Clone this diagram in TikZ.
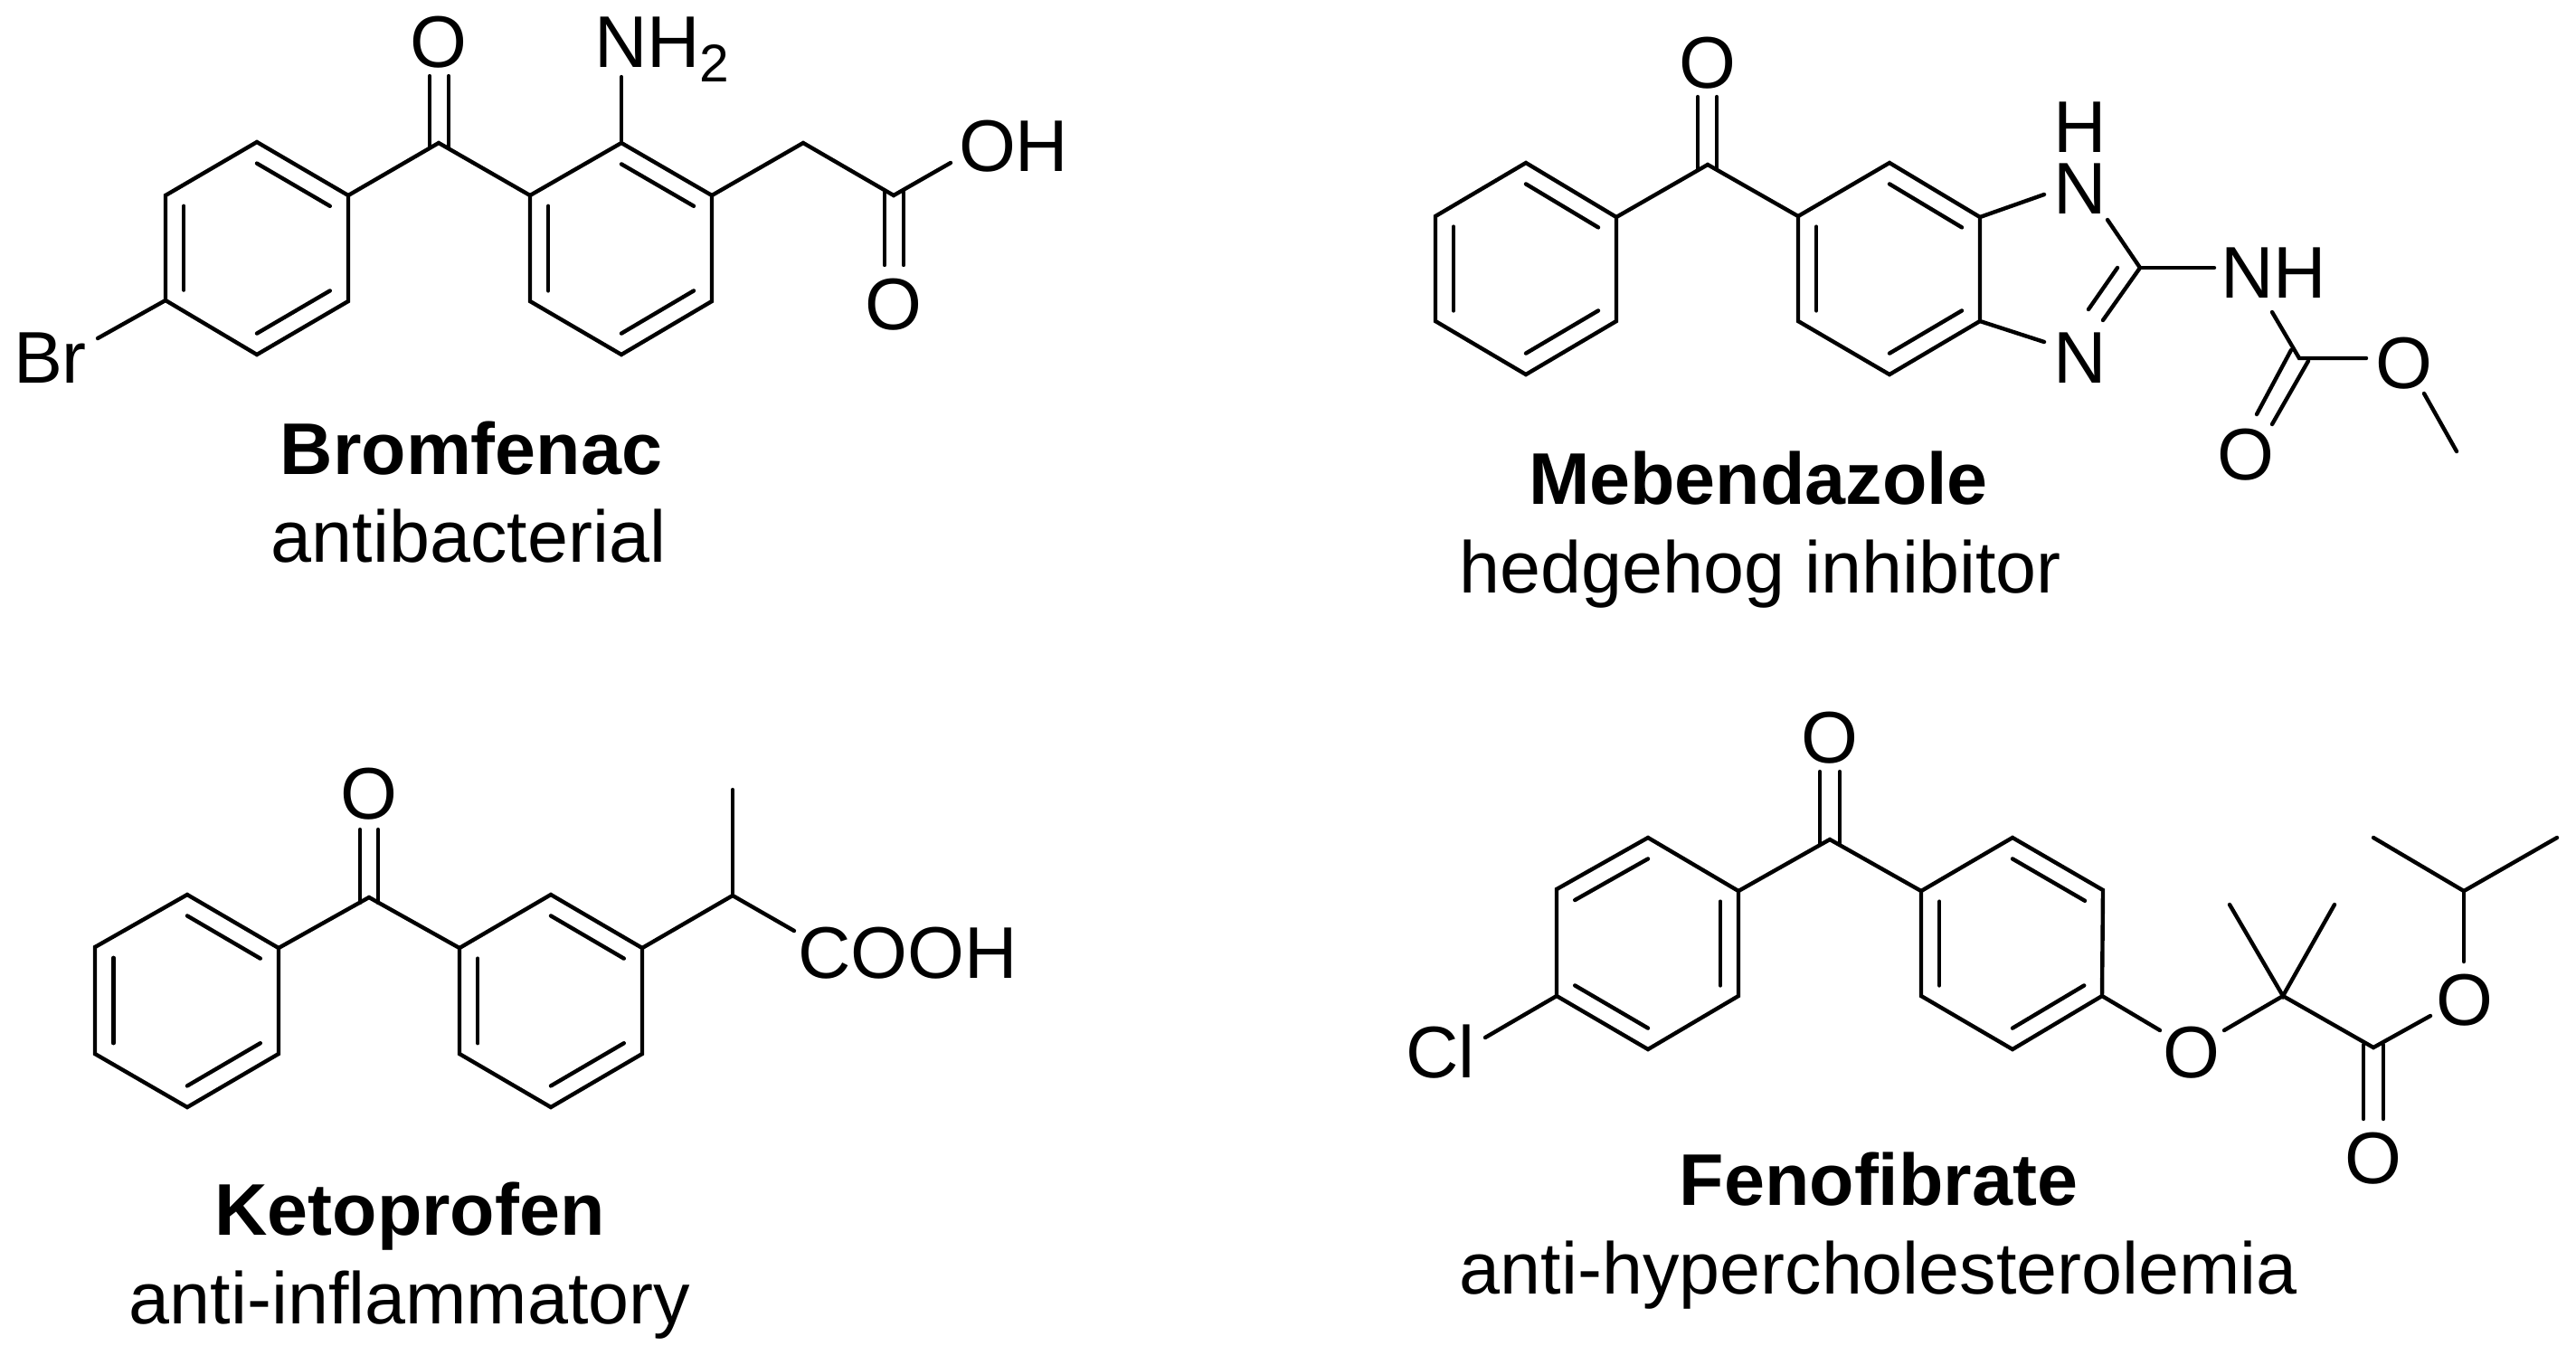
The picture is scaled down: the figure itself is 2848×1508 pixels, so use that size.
\documentclass[tikz,border=0pt]{standalone}
\usepackage{fontspec}
\setmainfont{Liberation Sans}
\usetikzlibrary{calc}
\newcommand{\innerbond}[3]{\draw[bond] ($(#1)!0.2!(#3)$) -- ($(#2)!0.2!(#3)$);}
\newcommand{\ringpath}[6]{\draw[bond] (#1) -- (#2) -- (#3) -- (#4) -- (#5) -- (#6) -- cycle;}
\newcommand{\subtwo}{\raisebox{-4.55pt}{\fontsize{16.7pt}{20pt}\selectfont 2}}
\tikzset{
  bond/.style={line width=1.25pt, line cap=round, line join=miter, black},
  atom/.style={inner sep=0pt, outer sep=0pt, font=\fontsize{23pt}{27pt}\selectfont, anchor=base},
  atomw/.style={atom, anchor=base west},
  title/.style={inner sep=0pt, outer sep=0pt, font=\fontsize{23pt}{27pt}\selectfont\bfseries, anchor=base},
  role/.style={inner sep=0pt, outer sep=0pt, font=\fontsize{23pt}{27pt}\selectfont, anchor=base}
}
\begin{document}
\begin{tikzpicture}[x=0.01cm,y=-0.01cm]
\useasboundingbox (0,0) rectangle (2848,1508);

% ---------- Bromfenac ----------
\coordinate (a1) at (284,157); \coordinate (a2) at (385,216); \coordinate (a3) at (385,333);
\coordinate (a4) at (284,392); \coordinate (a5) at (183,332); \coordinate (a6) at (183,216);
\coordinate (ac) at (284,275);
\coordinate (b1) at (687,158); \coordinate (b2) at (787,216); \coordinate (b3) at (787,333);
\coordinate (b4) at (687,392); \coordinate (b5) at (586,333); \coordinate (b6) at (586,216);
\coordinate (bc) at (687,275);
\coordinate (bk) at (485,158); \coordinate (bm) at (888,158); \coordinate (bx) at (988,216);
\node[atom]  (bO1) at (485,74) {O};
\node[atomw] (bNH) at (657,74) {NH\subtwo};
\node[atomw] (bOH) at (1060,189) {OH};
\node[atom]  (bO2) at (988,364) {O};
\node[atomw] (bBr) at (15,423) {Br};
\node[title] (bT) at (521,524) {Bromfenac};
\node[role]  (bR) at (518,621) {antibacterial};
\ringpath{a1}{a2}{a3}{a4}{a5}{a6}
\innerbond{a1}{a2}{ac} \innerbond{a6}{a5}{ac} \innerbond{a4}{a3}{ac}
\ringpath{b1}{b2}{b3}{b4}{b5}{b6}
\innerbond{b1}{b2}{bc} \innerbond{b6}{b5}{bc} \innerbond{b4}{b3}{bc}
\draw[bond] (a2) -- (bk) -- (b6);
\draw[bond] ([shift={(-10,5)}]bk) -- ([shift={(-10,10)}]bO1.base);
\draw[bond] ([shift={(11,5)}]bk) -- ([shift={(11,10)}]bO1.base);
\draw[bond] (b1) -- ([shift={(30,11)}]bNH.base west);
\draw[bond] (b2) -- (bm) -- (bx) -- ([shift={(-9,-9)}]bOH.base west);
\draw[bond] ([shift={(-10,-5)}]bx) -- ([shift={(-10,-71)}]bO2.base);
\draw[bond] ([shift={(11,-5)}]bx) -- ([shift={(11,-71)}]bO2.base);
\draw[bond] (a5) -- ([shift={(93,-49)}]bBr.base west);

% ---------- Mebendazole ----------
\coordinate (c1) at (1687,180); \coordinate (c2) at (1787,240); \coordinate (c3) at (1787,355);
\coordinate (c4) at (1687,414); \coordinate (c5) at (1587,355); \coordinate (c6) at (1587,239);
\coordinate (cc) at (1687,297);
\coordinate (d1) at (2089,180); \coordinate (d2) at (2189,240); \coordinate (d3) at (2189,355);
\coordinate (d4) at (2089,414); \coordinate (d5) at (1988,355); \coordinate (d6) at (1988,239);
\coordinate (dc) at (2089,297);
\coordinate (mk) at (1888,182); \coordinate (mg) at (2366,296); \coordinate (mu) at (2542,396);
\coordinate (mme) at (2716,499);
\node[atom]  (mO1) at (1888,97) {O};
\node[atom]  (mN1) at (2300,236) {N};
\node[atom]  (mH1) at (2300,168) {H};
\node[atom]  (mN2) at (2300,423) {N};
\node[atomw] (mNH) at (2455,329) {NH};
\node[atom]  (mO2) at (2658,429) {O};
\node[atom]  (mO3) at (2483,530) {O};
\node[title] (mT) at (1944,557) {Mebendazole};
\node[role]  (mR) at (1946,655) {hedgehog inhibitor};
\ringpath{c1}{c2}{c3}{c4}{c5}{c6}
\innerbond{c1}{c2}{cc} \innerbond{c6}{c5}{cc} \innerbond{c4}{c3}{cc}
\ringpath{d1}{d2}{d3}{d4}{d5}{d6}
\innerbond{d1}{d2}{dc} \innerbond{d6}{d5}{dc} \innerbond{d4}{d3}{dc}
\draw[bond] (c2) -- (mk) -- (d6);
\draw[bond] ([shift={(-11,5)}]mk) -- ([shift={(-11,10)}]mO1.base);
\draw[bond] ([shift={(10,5)}]mk) -- ([shift={(10,10)}]mO1.base);
\draw[bond] (d2) -- ([shift={(-40,-21)}]mN1.base);
\draw[bond] ([shift={(30,7)}]mN1.base) -- (mg);
\draw[bond] (mg) -- ([shift={(25,-69)}]mN2.base);
\draw[bond] ([shift={(-25,0)}]mg) -- ([shift={(9,-81)}]mN2.base);
\draw[bond] (d3) -- ([shift={(-40,-45)}]mN2.base);
\draw[bond] (mg) -- ([shift={(-7,-33)}]mNH.base west);
\draw[bond] ([shift={(57,16)}]mNH.base west) -- (mu) -- ([shift={(-42,-33)}]mO2.base);
\draw[bond] ([shift={(22,6)}]mO2.base) -- (mme);
\draw[bond] ([shift={(-9,-9)}]mu) -- ([shift={(12,-72)}]mO3.base);
\draw[bond] ([shift={(10,3)}]mu) -- ([shift={(29,-61)}]mO3.base);

% ---------- Ketoprofen ----------
\coordinate (e1) at (207,989); \coordinate (e2) at (308,1048); \coordinate (e3) at (308,1165);
\coordinate (e4) at (207,1224); \coordinate (e5) at (105,1165); \coordinate (e6) at (105,1047);
\coordinate (ec) at (207,1106);
\coordinate (f1) at (609,989); \coordinate (f2) at (710,1048); \coordinate (f3) at (710,1165);
\coordinate (f4) at (609,1224); \coordinate (f5) at (508,1165); \coordinate (f6) at (508,1048);
\coordinate (fc) at (609,1106);
\coordinate (kk) at (408,992); \coordinate (kh) at (810,990); \coordinate (kme) at (810,873);
\node[atom]  (kO) at (408,905) {O};
\node[atomw] (kA) at (882,1081) {COOH};
\node[title] (kT) at (453,1365) {Ketoprofen};
\node[role]  (kR) at (453,1463) {anti-inflammatory};
\ringpath{e1}{e2}{e3}{e4}{e5}{e6}
\innerbond{e1}{e2}{ec} \innerbond{e6}{e5}{ec} \innerbond{e4}{e3}{ec}
\ringpath{f1}{f2}{f3}{f4}{f5}{f6}
\innerbond{f1}{f2}{fc} \innerbond{f6}{f5}{fc} \innerbond{f4}{f3}{fc}
\draw[bond] (e2) -- (kk) -- (f6);
\draw[bond] ([shift={(-10,6)}]kk) -- ([shift={(-10,12)}]kO.base);
\draw[bond] ([shift={(10,6)}]kk) -- ([shift={(10,12)}]kO.base);
\draw[bond] (f2) -- (kh) -- ([shift={(-4,-52)}]kA.base west);
\draw[bond] (kh) -- (kme);

% ---------- Fenofibrate ----------
\coordinate (g1) at (1822,926); \coordinate (g2) at (1922,985); \coordinate (g3) at (1922,1101);
\coordinate (g4) at (1822,1160); \coordinate (g5) at (1721,1101); \coordinate (g6) at (1721,983);
\coordinate (gc) at (1822,1043);
\coordinate (h1) at (2225,926); \coordinate (h2) at (2325,984); \coordinate (h3) at (2324,1101);
\coordinate (h4) at (2225,1160); \coordinate (h5) at (2124,1101); \coordinate (h6) at (2124,985);
\coordinate (hc) at (2225,1043);
\coordinate (fk) at (2023,928); \coordinate (fq) at (2524,1101); \coordinate (fe) at (2624,1158);
\coordinate (fme1) at (2465,1000); \coordinate (fme2) at (2581,1000);
\coordinate (fi) at (2724,985); \coordinate (fme3) at (2624,926); \coordinate (fme4) at (2827,926);
\node[atom]  (fO1) at (2023,843) {O};
\node[atom]  (fO2) at (2423,1191) {O};
\node[atom]  (fO3) at (2725,1133) {O};
\node[atom]  (fO4) at (2624,1308) {O};
\node[atomw] (fCl) at (1554,1191) {Cl};
\node[title] (fT) at (2077,1332) {Fenofibrate};
\node[role]  (fR) at (2077,1430) {anti-hypercholesterolemia};
\ringpath{g1}{g2}{g3}{g4}{g5}{g6}
\innerbond{g6}{g1}{gc} \innerbond{g2}{g3}{gc} \innerbond{g5}{g4}{gc}
\ringpath{h1}{h2}{h3}{h4}{h5}{h6}
\innerbond{h1}{h2}{hc} \innerbond{h6}{h5}{hc} \innerbond{h4}{h3}{hc}
\draw[bond] (g2) -- (fk) -- (h6);
\draw[bond] ([shift={(-11,6)}]fk) -- ([shift={(-11,10)}]fO1.base);
\draw[bond] ([shift={(11,6)}]fk) -- ([shift={(11,10)}]fO1.base);
\draw[bond] (g5) -- ([shift={(88,-44)}]fCl.base west);
\draw[bond] (h3) -- ([shift={(-35,-52)}]fO2.base);
\draw[bond] ([shift={(36,-52)}]fO2.base) -- (fq) -- (fe) -- ([shift={(-38,-10)}]fO3.base);
\draw[bond] (fme1) -- (fq) -- (fme2);
\draw[bond] ([shift={(-1,-70)}]fO3.base) -- (fi);
\draw[bond] (fme3) -- (fi) -- (fme4);
\draw[bond] ([shift={(-11,-3)}]fe) -- ([shift={(-11,-71)}]fO4.base);
\draw[bond] ([shift={(11,-3)}]fe) -- ([shift={(11,-71)}]fO4.base);
\end{tikzpicture}
\end{document}
